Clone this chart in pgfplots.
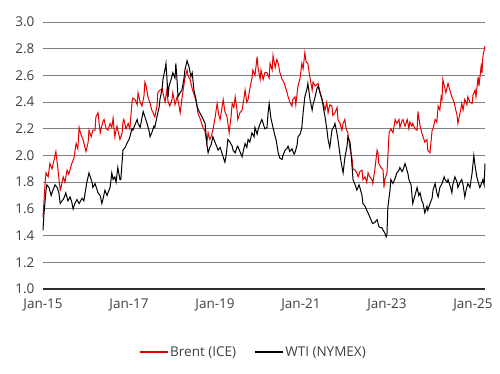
\documentclass[border=0pt]{standalone}
\usepackage{pgfplots}
\pgfplotsset{compat=1.18}
\usepackage{pgfplotstable}
\usepackage{fontspec}
\setmainfont{Open Sans}

\definecolor{brentred}{RGB}{230,0,0}
\definecolor{textgray}{RGB}{64,64,64}
\definecolor{gridgray}{RGB}{128,128,128}
\definecolor{axisdark}{RGB}{45,45,45}

% Brent (ICE): date in decimal years, value
\pgfplotstableread{
t v
2015.00 1.54
2015.05 1.80
2015.07 1.87
2015.12 1.84
2015.16 1.94
2015.21 1.90
2015.28 2.00
2015.30 2.03
2015.35 1.89
2015.40 1.74
2015.42 1.76
2015.47 1.84
2015.51 1.80
2015.56 1.89
2015.60 1.86
2015.67 1.94
2015.72 1.98
2015.77 2.09
2015.81 2.05
2015.84 2.21
2015.88 2.16
2015.93 2.12
2016.00 2.03
2016.05 2.10
2016.07 2.19
2016.12 2.14
2016.16 2.19
2016.21 2.19
2016.23 2.29
2016.28 2.32
2016.33 2.17
2016.35 2.20
2016.40 2.26
2016.42 2.27
2016.47 2.20
2016.51 2.19
2016.56 2.24
2016.60 2.21
2016.63 2.28
2016.67 2.14
2016.72 2.22
2016.74 2.19
2016.79 2.12
2016.84 2.17
2016.86 2.25
2016.88 2.27
2016.93 2.20
2016.98 2.24
2017.02 2.20
2017.07 2.40
2017.09 2.43
2017.14 2.42
2017.19 2.38
2017.21 2.47
2017.26 2.40
2017.30 2.37
2017.35 2.45
2017.37 2.55
2017.40 2.52
2017.44 2.44
2017.49 2.39
2017.53 2.34
2017.56 2.32
2017.60 2.29
2017.65 2.37
2017.67 2.47
2017.72 2.49
2017.77 2.50
2017.79 2.47
2017.84 2.40
2017.88 2.49
2017.91 2.40
2017.95 2.37
2018.00 2.42
2018.02 2.47
2018.07 2.38
2018.12 2.44
2018.16 2.38
2018.19 2.32
2018.23 2.42
2018.26 2.49
2018.30 2.58
2018.35 2.64
2018.37 2.60
2018.42 2.57
2018.47 2.50
2018.53 2.44
2018.58 2.38
2018.60 2.32
2018.65 2.28
2018.72 2.21
2018.77 2.18
2018.81 2.09
2018.84 2.17
2018.88 2.12
2018.91 2.14
2018.95 2.19
2019.00 2.28
2019.05 2.39
2019.09 2.30
2019.12 2.27
2019.16 2.35
2019.19 2.42
2019.23 2.33
2019.28 2.29
2019.33 2.17
2019.37 2.28
2019.40 2.39
2019.44 2.36
2019.47 2.44
2019.51 2.35
2019.53 2.27
2019.58 2.32
2019.63 2.34
2019.67 2.42
2019.70 2.49
2019.74 2.40
2019.77 2.42
2019.81 2.50
2019.86 2.58
2019.88 2.64
2019.93 2.60
2019.98 2.74
2020.00 2.66
2020.05 2.57
2020.07 2.64
2020.12 2.57
2020.16 2.62
2020.21 2.62
2020.26 2.58
2020.28 2.69
2020.33 2.64
2020.35 2.75
2020.40 2.66
2020.44 2.72
2020.47 2.69
2020.51 2.62
2020.56 2.57
2020.60 2.55
2020.63 2.52
2020.67 2.48
2020.70 2.44
2020.74 2.40
2020.79 2.37
2020.81 2.42
2020.86 2.44
2020.88 2.38
2020.93 2.52
2020.98 2.58
2021.02 2.69
2021.05 2.65
2021.09 2.77
2021.12 2.70
2021.16 2.69
2021.21 2.58
2021.26 2.49
2021.28 2.55
2021.33 2.52
2021.40 2.54
2021.44 2.48
2021.49 2.42
2021.53 2.38
2021.56 2.34
2021.60 2.40
2021.63 2.32
2021.67 2.38
2021.72 2.37
2021.74 2.30
2021.79 2.32
2021.84 2.36
2021.86 2.27
2021.91 2.24
2021.95 2.19
2021.98 2.24
2022.02 2.27
2022.05 2.20
2022.09 2.17
2022.14 2.05
2022.19 1.97
2022.21 1.90
2022.26 1.89
2022.30 1.87
2022.33 1.84
2022.37 1.88
2022.42 1.89
2022.44 1.82
2022.49 1.84
2022.53 1.80
2022.56 1.87
2022.60 1.84
2022.65 1.82
2022.67 1.79
2022.72 1.90
2022.77 2.04
2022.79 2.02
2022.81 1.94
2022.86 1.91
2022.91 1.89
2022.93 1.76
2022.95 1.82
2023.00 1.87
2023.05 2.17
2023.09 2.20
2023.14 2.17
2023.19 2.27
2023.23 2.24
2023.28 2.27
2023.30 2.21
2023.35 2.26
2023.37 2.27
2023.42 2.22
2023.47 2.27
2023.51 2.20
2023.53 2.25
2023.58 2.22
2023.60 2.24
2023.65 2.20
2023.70 2.19
2023.72 2.33
2023.77 2.22
2023.81 2.17
2023.86 2.12
2023.88 2.10
2023.93 2.12
2023.95 2.04
2024.00 2.02
2024.05 2.19
2024.07 2.20
2024.12 2.27
2024.16 2.25
2024.19 2.37
2024.23 2.34
2024.26 2.44
2024.28 2.42
2024.30 2.57
2024.35 2.50
2024.37 2.47
2024.42 2.54
2024.47 2.48
2024.51 2.44
2024.56 2.40
2024.58 2.37
2024.63 2.30
2024.65 2.24
2024.70 2.32
2024.74 2.39
2024.77 2.34
2024.81 2.42
2024.86 2.38
2024.88 2.44
2024.93 2.40
2024.98 2.39
2025.00 2.45
2025.05 2.49
2025.07 2.44
2025.12 2.59
2025.14 2.52
2025.19 2.67
2025.21 2.62
2025.23 2.74
2025.28 2.82
}\brent

% WTI (NYMEX): date in decimal years, value
\pgfplotstableread{
t v
2015.00 1.44
2015.02 1.55
2015.07 1.74
2015.09 1.78
2015.14 1.76
2015.19 1.70
2015.23 1.74
2015.28 1.78
2015.33 1.76
2015.37 1.72
2015.40 1.64
2015.44 1.66
2015.47 1.67
2015.51 1.70
2015.53 1.72
2015.58 1.66
2015.63 1.69
2015.67 1.65
2015.70 1.60
2015.74 1.64
2015.79 1.67
2015.84 1.64
2015.91 1.68
2015.95 1.66
2015.98 1.72
2016.02 1.80
2016.07 1.87
2016.09 1.85
2016.14 1.80
2016.16 1.76
2016.21 1.79
2016.26 1.74
2016.28 1.72
2016.33 1.70
2016.37 1.64
2016.40 1.68
2016.44 1.74
2016.49 1.70
2016.51 1.72
2016.56 1.76
2016.60 1.87
2016.63 1.82
2016.67 1.84
2016.70 1.80
2016.74 1.91
2016.79 1.82
2016.81 1.82
2016.86 2.04
2016.91 2.06
2016.95 2.09
2017.00 2.12
2017.02 2.14
2017.07 2.20
2017.09 2.19
2017.14 2.23
2017.19 2.27
2017.21 2.24
2017.26 2.21
2017.30 2.28
2017.33 2.33
2017.37 2.29
2017.42 2.24
2017.47 2.18
2017.49 2.14
2017.53 2.17
2017.58 2.22
2017.60 2.21
2017.65 2.29
2017.70 2.36
2017.72 2.42
2017.77 2.50
2017.79 2.57
2017.84 2.65
2017.86 2.69
2017.91 2.44
2017.93 2.52
2017.98 2.57
2018.02 2.62
2018.07 2.58
2018.09 2.69
2018.12 2.55
2018.14 2.44
2018.19 2.47
2018.23 2.49
2018.28 2.58
2018.30 2.64
2018.35 2.71
2018.40 2.66
2018.44 2.59
2018.47 2.62
2018.51 2.49
2018.56 2.42
2018.58 2.37
2018.63 2.33
2018.70 2.29
2018.74 2.26
2018.77 2.24
2018.81 2.09
2018.84 2.02
2018.88 2.06
2018.91 2.08
2018.95 2.14
2019.00 2.10
2019.05 2.06
2019.07 2.04
2019.12 2.06
2019.16 2.02
2019.19 1.99
2019.23 1.95
2019.26 2.00
2019.30 2.12
2019.35 2.10
2019.40 2.07
2019.42 2.04
2019.47 2.02
2019.51 2.06
2019.53 2.07
2019.58 2.03
2019.63 1.99
2019.67 2.05
2019.70 2.09
2019.74 2.06
2019.77 2.12
2019.81 2.10
2019.86 2.17
2019.91 2.14
2019.93 2.21
2019.98 2.16
2020.00 2.19
2020.05 2.24
2020.09 2.27
2020.12 2.24
2020.16 2.20
2020.21 2.21
2020.23 2.30
2020.26 2.39
2020.30 2.28
2020.35 2.21
2020.40 2.14
2020.42 2.12
2020.47 2.02
2020.51 1.98
2020.56 1.97
2020.58 2.00
2020.63 2.04
2020.67 2.05
2020.70 2.07
2020.74 2.03
2020.79 2.05
2020.84 2.01
2020.86 2.02
2020.91 2.08
2020.93 2.14
2020.98 2.16
2021.02 2.21
2021.05 2.32
2021.09 2.44
2021.14 2.50
2021.16 2.54
2021.21 2.42
2021.26 2.34
2021.28 2.38
2021.33 2.44
2021.37 2.50
2021.40 2.52
2021.44 2.47
2021.49 2.42
2021.53 2.34
2021.56 2.29
2021.60 2.20
2021.63 2.12
2021.67 2.06
2021.72 2.19
2021.77 2.22
2021.79 2.24
2021.84 2.16
2021.86 2.12
2021.91 2.00
2021.95 1.92
2021.98 1.87
2022.02 1.98
2022.07 2.07
2022.09 2.14
2022.14 2.10
2022.16 2.04
2022.21 1.82
2022.26 1.78
2022.30 1.74
2022.35 1.78
2022.37 1.76
2022.42 1.70
2022.44 1.64
2022.49 1.62
2022.53 1.59
2022.56 1.57
2022.60 1.54
2022.65 1.50
2022.67 1.49
2022.72 1.50
2022.77 1.52
2022.81 1.47
2022.84 1.46
2022.88 1.46
2022.91 1.44
2022.95 1.42
2022.98 1.39
2023.00 1.41
2023.02 1.61
2023.07 1.74
2023.09 1.82
2023.14 1.79
2023.19 1.83
2023.23 1.87
2023.28 1.89
2023.30 1.91
2023.35 1.88
2023.37 1.89
2023.42 1.94
2023.44 1.92
2023.49 1.86
2023.51 1.82
2023.56 1.78
2023.60 1.64
2023.65 1.70
2023.70 1.76
2023.74 1.70
2023.77 1.72
2023.81 1.66
2023.84 1.64
2023.88 1.57
2023.93 1.62
2023.95 1.59
2024.00 1.64
2024.05 1.68
2024.07 1.74
2024.12 1.79
2024.16 1.72
2024.19 1.69
2024.23 1.76
2024.28 1.79
2024.33 1.84
2024.35 1.82
2024.40 1.80
2024.42 1.82
2024.47 1.77
2024.51 1.72
2024.53 1.78
2024.58 1.84
2024.63 1.80
2024.65 1.76
2024.70 1.80
2024.74 1.82
2024.77 1.78
2024.81 1.69
2024.84 1.74
2024.88 1.79
2024.93 1.76
2024.98 1.87
2025.02 2.00
2025.05 1.92
2025.09 1.84
2025.14 1.78
2025.16 1.76
2025.21 1.80
2025.23 1.82
2025.26 1.78
2025.28 1.94
}\wti

\begin{document}
\begin{tikzpicture}
\path[use as bounding box] (-43pt,-85pt) rectangle (457pt,289pt);
\begin{axis}[
  at={(0pt,0pt)}, anchor=south west,
  scale only axis,
  width=442pt, height=267pt,
  xmin=2015, xmax=2025.28,
  ymin=1.0, ymax=3.0,
  xtick={2015,2017,2019,2021,2023,2025},
  xticklabels={Jan-15,Jan-17,Jan-19,Jan-21,Jan-23,Jan-25},
  ytick={1.0,1.2,...,3.01},
  /pgf/number format/assume math mode=true,
  yticklabel style={/pgf/number format/fixed, /pgf/number format/fixed zerofill,
    /pgf/number format/precision=1, xshift=-5pt},
  tick label style={font=\fontsize{13.5pt}{15pt}\selectfont, text=textgray},
  xticklabel style={yshift=-6pt},
  major tick length=0pt,
  axis x line*=bottom,
  axis y line*=left,
  axis line style={-},
  x axis line style={draw=axisdark, line width=1.3pt},
  y axis line style={draw=none},
  ymajorgrids,
  major grid style={draw=gridgray, line width=0.9pt},
  clip=false,
  legend columns=2,
  legend style={at={(0.476,-0.236)}, anchor=center, draw=none, fill=none,
    font=\fontsize{13.5pt}{15pt}\selectfont, text=textgray,
    /tikz/every even column/.append style={column sep=16pt}},
  legend image code/.code={\draw[#1, line width=1.2pt] (0pt,0pt) -- (28pt,0pt);},
]
\addplot[brentred, line width=1pt] table[x=t, y=v] {\brent};
\addlegendentry{Brent (ICE)}
\addplot[black, line width=1pt] table[x=t, y=v] {\wti};
\addlegendentry{WTI (NYMEX)}
\end{axis}
\end{tikzpicture}
\end{document}
